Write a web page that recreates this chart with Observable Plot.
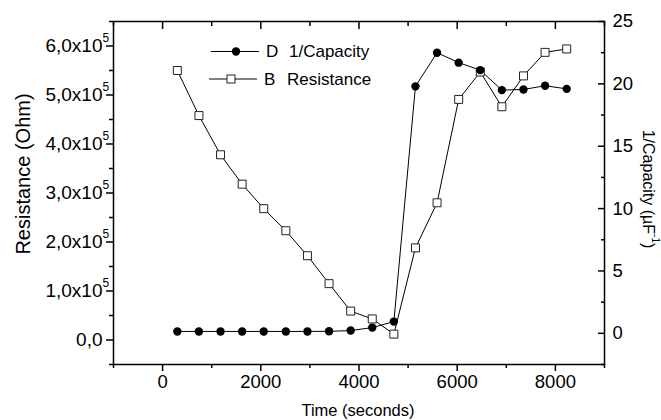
<!DOCTYPE html>
<html><head><meta charset="utf-8">
<script src="https://cdn.jsdelivr.net/npm/d3@7"></script>
<script src="https://cdn.jsdelivr.net/npm/@observablehq/plot@0.6"></script>
<style>body{margin:0;background:#fff} svg{display:block}</style>
</head><body><div id="chart"></div>
<script>
// ---- data ----
const times = [300, 740, 1180, 1620, 2060, 2510, 2950, 3390, 3830, 4270, 4710, 5150, 5590, 6030, 6470, 6910, 7350, 7790, 8230];
const resistance = [550000, 458000, 378000, 318000, 268000, 223000, 172000, 115000, 59000, 43000, 12000, 188000, 280000, 491000, 547000, 476000, 539000, 587000, 594000];
const invCapacity = [0.15, 0.15, 0.15, 0.15, 0.15, 0.15, 0.15, 0.16, 0.22, 0.46, 0.94, 19.8, 22.5, 21.7, 21.1, 19.5, 19.55, 19.85, 19.6];

const xDomain = [-1000, 9000];
const leftDomain = [-50000, 650000];
const rightDomain = [-2.5, 25];

const xMajorTicks = [0, 2000, 4000, 6000, 8000];
const xMinorTicks = [-1000, 1000, 3000, 5000, 7000, 9000];
const leftTicks = [0, 100000, 200000, 300000, 400000, 500000, 600000];
const leftTickText = ["0,0", "1,0x10", "2,0x10", "3,0x10", "4,0x10", "5,0x10", "6,0x10"];
const leftTickSup = ["", "5", "5", "5", "5", "5", "5"];
const leftMinorTicks = [-50000, 50000, 150000, 250000, 350000, 450000, 550000, 650000];
const rightTicks = [0, 5, 10, 15, 20, 25];
const rightMinorTicks = [-2.5, 2.5, 7.5, 12.5, 17.5, 22.5];

const xTitle = "Time (seconds)";
const leftTitle = "Resistance (Ohm)";
const rightTitle = "1/Capacity (µF";
const rightTitleSup = "-1";
const legendItems = [
  {key: "D", label: "1/Capacity", symbol: "circle"},
  {key: "B", label: "Resistance", symbol: "square"}
];

// ---- build ----
const toLeft = c => leftDomain[0] + (c - rightDomain[0]) / (rightDomain[1] - rightDomain[0]) * (leftDomain[1] - leftDomain[0]);
const data = times.map((t, i) => ({t, r: resistance[i], c: toLeft(invCapacity[i])}));
const leftLabelData = leftTicks.map((v, i) => ({v, text: leftTickText[i], sup: leftTickSup[i]}));
const rightLabelData = rightTicks.map(v => ({v: toLeft(v), text: String(v)}));
const blank = () => "";
const font = "'Liberation Sans', Arial, Helvetica, sans-serif";

const plot = Plot.plot({
  width: 661, height: 420,
  marginLeft: 113, marginRight: 57, marginTop: 21, marginBottom: 56,
  x: {domain: xDomain},
  y: {domain: leftDomain},
  style: {fontFamily: font, fontSize: "17px", color: "black", background: "white"},
  marks: [
    Plot.axisX({anchor: "bottom", ticks: xMajorTicks, tickSize: 7, tickPadding: 3, fontSize: 18.5, tickFormat: d => String(d), label: null, strokeWidth: 1.5}),
    Plot.axisX({anchor: "bottom", ticks: xMinorTicks, tickSize: 4, tickFormat: blank, label: null, strokeWidth: 1.5}),
    Plot.axisX({anchor: "top", ticks: xMajorTicks, tickSize: 7, dy: 7, tickFormat: blank, label: null, strokeWidth: 1.5}),
    Plot.axisX({anchor: "top", ticks: xMinorTicks, tickSize: 4, dy: 4, tickFormat: blank, label: null, strokeWidth: 1.5}),
    Plot.axisY({anchor: "left", ticks: leftTicks, tickSize: 7, tickFormat: blank, label: null, strokeWidth: 1.5}),
    Plot.axisY({anchor: "left", ticks: leftMinorTicks, tickSize: 4, tickFormat: blank, label: null, strokeWidth: 1.5}),
    Plot.axisY({anchor: "right", ticks: rightTicks.map(toLeft), tickSize: 7, dx: -7, tickFormat: blank, label: null, strokeWidth: 1.5}),
    Plot.axisY({anchor: "right", ticks: rightMinorTicks.map(toLeft), tickSize: 4, dx: -4, tickFormat: blank, label: null, strokeWidth: 1.5}),
    Plot.frame({stroke: "black", strokeWidth: 1.5}),
    Plot.text(leftLabelData, {y: "v", text: "text", frameAnchor: "left", dx: -11, textAnchor: "end", fontSize: 19, fill: "black"}),
    Plot.text(leftLabelData.filter(d => d.sup), {y: "v", text: "sup", frameAnchor: "left", dx: -11, dy: -8, textAnchor: "start", fontSize: 12, fill: "black"}),
    Plot.text(rightLabelData, {y: "v", text: "text", frameAnchor: "right", dx: 8, textAnchor: "start", fontSize: 18.5, fill: "black"}),
    Plot.line(data, {x: "t", y: "r", stroke: "black", strokeWidth: 1}),
    Plot.line(data, {x: "t", y: "c", stroke: "black", strokeWidth: 1}),
    Plot.dot(data, {x: "t", y: "r", symbol: "square", r: 4.5, fill: "white", stroke: "#222", strokeWidth: 1}),
    Plot.dot(data, {x: "t", y: "c", symbol: "circle", r: 4.2, fill: "black", stroke: "none"})
  ]
});

const svg = d3.select(plot);
// axis titles
svg.append("text").attr("x", 358).attr("y", 410).attr("text-anchor", "middle").attr("dominant-baseline", "central")
  .attr("font-family", font).attr("font-size", 16.5).attr("fill", "black").text(xTitle);
svg.append("text").attr("transform", "translate(23,174) rotate(-90)").attr("text-anchor", "middle").attr("dominant-baseline", "central")
  .attr("font-family", font).attr("font-size", 20).attr("fill", "black").text(leftTitle);
const rt = svg.append("text").attr("transform", "translate(649,189) rotate(90)").attr("text-anchor", "middle").attr("dominant-baseline", "central")
  .attr("font-family", font).attr("font-size", 16).attr("fill", "black");
rt.append("tspan").text(rightTitle);
rt.append("tspan").attr("font-size", 10).attr("dy", -7).text(rightTitleSup);
rt.append("tspan").attr("dy", 7).text(")");

// legend
const lg = svg.append("g").attr("font-family", font).attr("font-size", 17).attr("fill", "black").attr("text-anchor", "start");
legendItems.forEach((d, i) => {
  const y = 51.5 + i * 27.5;
  const x0 = 211 - i * 2;
  lg.append("line").attr("x1", x0).attr("x2", x0 + 48).attr("y1", y).attr("y2", y).attr("stroke", "black").attr("stroke-width", 1);
  if (d.symbol === "circle") {
    lg.append("circle").attr("cx", x0 + 25).attr("cy", y).attr("r", 4.2).attr("fill", "black");
  } else {
    lg.append("rect").attr("x", x0 + 18).attr("y", y - 4).attr("width", 8).attr("height", 8).attr("fill", "white").attr("stroke", "#222").attr("stroke-width", 1);
  }
  lg.append("text").attr("x", x0 + 55).attr("y", y).attr("dominant-baseline", "central").attr("text-anchor", "start").text(d.key);
  lg.append("text").attr("x", x0 + 78).attr("y", y).attr("dominant-baseline", "central").attr("text-anchor", "start").text(d.label);
});

document.getElementById("chart").appendChild(plot);
</script>
</body></html>
